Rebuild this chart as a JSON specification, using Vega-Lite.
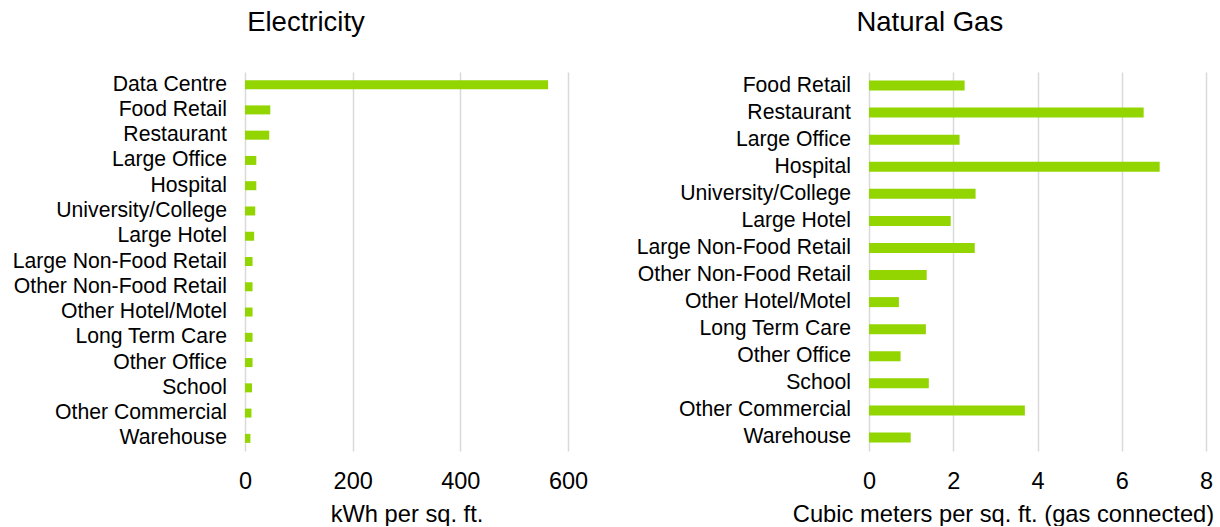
{
  "$schema": "https://vega.github.io/schema/vega-lite/v6.json",
  "padding": {"left": 12, "top": 8, "right": 0, "bottom": 0},
  "background": "white",
  "datasets": {
    "electricity": [
      {"type": "Data Centre", "kwh": 563},
      {"type": "Food Retail", "kwh": 47},
      {"type": "Restaurant", "kwh": 45},
      {"type": "Large Office", "kwh": 21},
      {"type": "Hospital", "kwh": 21},
      {"type": "University/College", "kwh": 19},
      {"type": "Large Hotel", "kwh": 17},
      {"type": "Large Non-Food Retail", "kwh": 14},
      {"type": "Other Non-Food Retail", "kwh": 14},
      {"type": "Other Hotel/Motel", "kwh": 14},
      {"type": "Long Term Care", "kwh": 14},
      {"type": "Other Office", "kwh": 14},
      {"type": "School", "kwh": 13},
      {"type": "Other Commercial", "kwh": 12},
      {"type": "Warehouse", "kwh": 10}
    ],
    "gas": [
      {"type": "Food Retail", "m3": 2.27},
      {"type": "Restaurant", "m3": 6.52},
      {"type": "Large Office", "m3": 2.15},
      {"type": "Hospital", "m3": 6.9},
      {"type": "University/College", "m3": 2.53},
      {"type": "Large Hotel", "m3": 1.94},
      {"type": "Large Non-Food Retail", "m3": 2.51},
      {"type": "Other Non-Food Retail", "m3": 1.37},
      {"type": "Other Hotel/Motel", "m3": 0.71},
      {"type": "Long Term Care", "m3": 1.35},
      {"type": "Other Office", "m3": 0.75},
      {"type": "School", "m3": 1.42},
      {"type": "Other Commercial", "m3": 3.7},
      {"type": "Warehouse", "m3": 0.99}
    ]
  },
  "bounds": "flush",
  "spacing": 301,
  "hconcat": [
    {
      "width": 323,
      "height": 379,
      "data": {"name": "electricity"},
      "title": {"text": "Electricity", "frame": "group", "anchor": "middle", "dx": -100.5, "baseline": "alphabetic", "offset": 14},
      "mark": {"type": "bar", "color": "#93d500"},
      "encoding": {
        "y": {
          "field": "type", "type": "nominal", "sort": null,
          "scale": {"paddingInner": 0.644, "paddingOuter": 0.322},
          "axis": {"title": null}
        },
        "x": {
          "field": "kwh", "type": "quantitative",
          "scale": {"domain": [0, 600], "nice": false},
          "axis": {"values": [0, 200, 400, 600], "title": "kWh per sq. ft."}
        }
      }
    },
    {
      "width": 337,
      "height": 379,
      "data": {"name": "gas"},
      "title": {"text": "Natural Gas", "frame": "group", "anchor": "middle", "dx": -107.7, "baseline": "alphabetic", "offset": 14},
      "mark": {"type": "bar", "color": "#93d500"},
      "encoding": {
        "y": {
          "field": "type", "type": "nominal", "sort": null,
          "scale": {"paddingInner": 0.63, "paddingOuter": 0.315},
          "axis": {"title": null}
        },
        "x": {
          "field": "m3", "type": "quantitative",
          "scale": {"domain": [0, 8], "nice": false},
          "axis": {"values": [0, 2, 4, 6, 8], "title": "Cubic meters per sq. ft. (gas connected)", "titleX": 134, "titleAnchor": null}
        }
      }
    }
  ],
  "config": {
    "view": {"stroke": null},
    "font": "Liberation Sans",
    "title": {"font": "Liberation Sans", "fontSize": 27.5, "fontWeight": "normal", "color": "#000000"},
    "axis": {
      "domain": false,
      "ticks": false,
      "labelFont": "Liberation Sans",
      "titleFont": "Liberation Sans",
      "labelColor": "#000000",
      "titleColor": "#000000",
      "titleFontWeight": "normal",
      "gridColor": "#d9d9d9",
      "gridWidth": 1.5
    },
    "axisY": {"grid": false, "labelFontSize": 21.2, "labelPadding": 18.5, "labelLimit": 400},
    "axisX": {"grid": true, "labelFontSize": 23.5, "labelPadding": 18.5, "titleFontSize": 23.7, "titlePadding": 9, "labelFlush": false}
  }
}
